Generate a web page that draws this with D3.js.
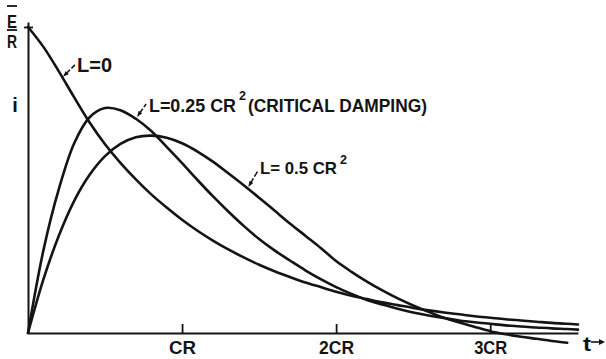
<!DOCTYPE html>
<html><head><meta charset="utf-8">
<script src="https://cdn.jsdelivr.net/npm/d3@7"></script>
<style>html,body{margin:0;padding:0;background:#fff;} svg{display:block;}</style>
</head><body><svg id="c" width="606" height="359"></svg>
<script>
// time in units of CR
const tSteps = [0,0.1,0.2,0.3,0.4,0.5,0.6,0.7,0.8,0.9,1.0,1.1,1.2,1.3,1.4,1.5,1.6,1.7,1.8,1.9,2.0,2.1,2.2,2.3,2.4,2.5,2.6,2.7,2.8,2.9,3.0,3.1,3.2,3.3,3.4,3.5,3.57];
// current in units of E/R
const lZero = [1.000,0.935,0.855,0.770,0.688,0.617,0.556,0.502,0.453,0.410,0.370,0.334,0.302,0.273,0.247,0.223,0.202,0.183,0.165,0.150,0.135,0.122,0.111,0.100,0.091,0.082,0.074,0.067,0.061,0.055,0.050,0.045,0.041,0.037,0.033,0.030,0.028];
const lCritical = [0,0.270,0.470,0.620,0.705,0.735,0.728,0.700,0.660,0.608,0.555,0.500,0.447,0.397,0.350,0.307,0.270,0.237,0.205,0.176,0.150,0.128,0.108,0.093,0.079,0.067,0.057,0.049,0.041,0.035,0.030,0.025,0.021,0.018,0.015,0.013,0.011];
const lHalf = [0,0.175,0.318,0.432,0.517,0.578,0.618,0.640,0.645,0.638,0.620,0.593,0.560,0.522,0.483,0.442,0.400,0.358,0.318,0.278,0.235,0.200,0.168,0.139,0.113,0.090,0.069,0.050,0.034,0.020,0.006,-0.004,-0.012,-0.019,-0.026,-0.032,null];
const xTickValues = [1,2,3];
const xTickLabels = ["CR","2CR","3CR"];
const yTickValues = [1];
const yLabelTop = "E", yLabelBottom = "R", yAxisName = "i", xAxisName = "t";
const seriesLabels = ["L=0", "L=0.25 CR", "L= 0.5 CR"];
const labelSuffix = ["", "2", "2"];
const criticalNote = "(CRITICAL DAMPING)";
// leader arrow anchor points (t, value)
const leaderT = [0.227, 0.708, 1.43];
const leaderV = [0.837, 0.706, 0.477];

const svg = d3.select("#c");
const ink = "#141414";
const font = "'Liberation Sans', Arial, sans-serif";
const x = d3.scaleLinear().domain([0, 3.57]).range([28, 578]);
const y = d3.scaleLinear().domain([0, 1.0163]).range([333, 22]);

// axes
const gx = svg.append("g").attr("transform", `translate(0,${y(0)})`)
  .call(d3.axisBottom(x).tickValues(xTickValues).tickFormat((d,i)=>xTickLabels[i])
    .tickSizeInner(-9).tickSizeOuter(0).tickPadding(8));
gx.select(".domain").attr("stroke", ink).attr("stroke-width", 2);
gx.selectAll(".tick line").attr("stroke", ink).attr("stroke-width", 1.8);
const tickW = [27,35,33];
gx.selectAll(".tick text").attr("fill", ink).attr("font-family", font).attr("font-weight","bold")
  .attr("font-size", 18).attr("textLength",(d,i)=>tickW[i]).attr("lengthAdjust","spacingAndGlyphs");

const gy = svg.append("g").attr("transform", `translate(${x(0)},0)`)
  .call(d3.axisLeft(y).tickValues(yTickValues).tickFormat("").tickSizeInner(4).tickSizeOuter(0));
gy.select(".domain").attr("stroke", ink).attr("stroke-width", 2);
gy.selectAll(".tick line").attr("x1", 5).attr("stroke", ink).attr("stroke-width", 1.8);

// curves
const series = [lZero, lCritical, lHalf];
const line = d3.line()
  .defined(d => d[1] !== null)
  .x(d => x(d[0])).y(d => y(d[1]))
  .curve(d3.curveCatmullRom.alpha(0.5));
series.forEach(s => {
  svg.append("path").datum(tSteps.map((t,i)=>[t, s[i]]))
    .attr("d", line).attr("fill","none").attr("stroke", ink)
    .attr("stroke-width", 2.6).attr("stroke-linejoin","round").attr("stroke-linecap","round");
});

// leaders
const leadDx = [12, 9, 10], leadDy = [-12, -13, -17];
leaderT.forEach((t,i) => {
  const px = x(t), py = y(leaderV[i]);
  const ex = px + leadDx[i], ey = py + leadDy[i];
  const len = Math.hypot(ex-px, ey-py), ux = (ex-px)/len, uy = (ey-py)/len;
  svg.append("line").attr("x1", px + ux*4).attr("y1", py + uy*4).attr("x2", ex).attr("y2", ey)
    .attr("stroke", ink).attr("stroke-width", 1.5).attr("stroke-dasharray", "6,2");
  svg.append("path").attr("fill", ink)
    .attr("d", `M${px},${py}L${px+ux*6 - uy*2.2},${py+uy*6 + ux*2.2}L${px+ux*6 + uy*2.2},${py+uy*6 - ux*2.2}Z`);
});

// labels
function txt(s, tx, ty, size, w, anchor) {
  const t = svg.append("text").attr("x", tx).attr("y", ty).attr("fill", ink)
    .attr("font-family", font).attr("font-weight", "bold").attr("font-size", size)
    .attr("text-anchor", anchor || "start").text(s);
  if (w) t.attr("textLength", w).attr("lengthAdjust", "spacingAndGlyphs");
  return t;
}
txt(seriesLabels[0], 77, 72, 20, 35);
txt(seriesLabels[1], 149, 112, 18, 87);
txt(labelSuffix[1], 239, 100, 12, 7);
txt(criticalNote, 248, 112, 18, 179);
txt(seriesLabels[2], 260, 174, 17, 77);
txt(labelSuffix[2], 340, 164, 12, 7);

// y-axis label E/R and i
txt(yLabelTop, 12, 27.5, 18, 10, "middle");
txt(yLabelBottom, 12, 47.5, 18, 10, "middle");
svg.append("line").attr("x1",7).attr("x2",17).attr("y1",6).attr("y2",6).attr("stroke",ink).attr("stroke-width",1.8);
svg.append("line").attr("x1",7).attr("x2",17).attr("y1",30).attr("y2",30).attr("stroke",ink).attr("stroke-width",1.8);
txt(yAxisName, 15, 112, 20, null, "middle");

// t arrow
txt(xAxisName, 587, 351, 20, 8, "middle");
svg.append("line").attr("x1",591).attr("x2",603).attr("y1",342).attr("y2",342).attr("stroke",ink).attr("stroke-width",1.6);
svg.append("path").attr("fill",ink).attr("d","M605,342L599,339L599,345Z");
</script></body></html>
